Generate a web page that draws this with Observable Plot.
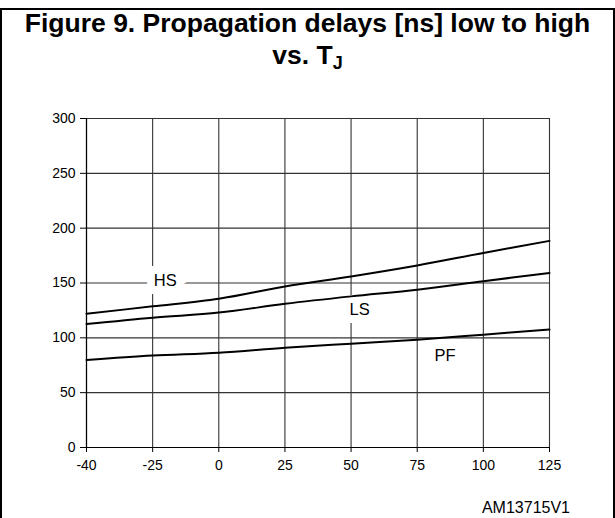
<!DOCTYPE html>
<html>
<head>
<meta charset="utf-8">
<script src="https://cdn.jsdelivr.net/npm/d3@7"></script>
<script src="https://cdn.jsdelivr.net/npm/@observablehq/plot@0.6"></script>
<style>
  html, body { margin: 0; padding: 0; background: #fff; }
  #wrap { position: relative; width: 615px; height: 518px; overflow: hidden; font-family: "Liberation Sans", Arial, sans-serif; }
  #frame { position: absolute; left: 0; top: 8px; width: 611px; height: 520px; border: 2px solid #000; border-bottom: none; }
  #title { position: absolute; left: 0; top: 7px; width: 615px; text-align: center; font-weight: bold; font-size: 26.5px; line-height: 32px; color: #000; }
  #title sub { font-size: 18px; vertical-align: -5px; line-height: 0; }
  #caption { position: absolute; right: 45px; top: 500px; font-size: 16px; line-height: 16px; color: #000; }
  #chart { position: absolute; left: 0; top: 0; }
</style>
</head>
<body>
<div id="wrap">
  <div id="frame"></div>
  <div id="title">Figure 9. Propagation delays [ns] low to high<br>vs. T<sub>J</sub></div>
  <div id="chart"></div>
  <div id="caption">AM13715V1</div>
</div>
<script>
const temps = [-40, -25, 0, 25, 50, 75, 100, 125];
const hs = [122, 128.7, 135.7, 146.9, 156, 166, 177.4, 188.4];
const ls = [112.6, 118.4, 123, 131, 137.8, 143.9, 151.6, 159.2];
const pf = [79.8, 83.8, 86.5, 91, 94.7, 98.3, 102.9, 107.7];
const yTicks = [0, 50, 100, 150, 200, 250, 300];
const seriesNames = ["HS", "LS", "PF"];
// label anchor positions (x in category index units, y in ns)
const labelX = [1.19, 4.13, 5.42];
const labelY = [152.5, 126, 84];

const series = [hs, ls, pf];
const rows = [];
series.forEach((vals, s) => vals.forEach((v, i) => rows.push({name: seriesNames[s], i, v})));
const labels = seriesNames.map((n, k) => ({name: n, x: labelX[k], y: labelY[k]}));
const idx = temps.map((t, i) => i);

const chart = Plot.plot({
  width: 615,
  height: 518,
  marginLeft: 86,
  marginRight: 66,
  marginTop: 118,
  marginBottom: 71,
  style: {fontFamily: "'Liberation Sans', Arial, sans-serif", background: "transparent", color: "#000"},
  x: {domain: [0, temps.length - 1], ticks: idx, tickFormat: i => String(temps[i])},
  y: {domain: [0, 300], ticks: yTicks},
  marks: [
    Plot.gridX(idx, {stroke: "#333", strokeOpacity: 1, strokeWidth: 1.1}),
    Plot.gridY(yTicks, {stroke: "#333", strokeOpacity: 1, strokeWidth: 1.1}),
    Plot.ruleY([0], {stroke: "#000", strokeWidth: 1.2}),
    Plot.ruleX([0], {stroke: "#000", strokeWidth: 1.2}),
    Plot.axisX(idx, {tickSize: 5, tickPadding: 8, fontSize: 14, label: null, tickFormat: i => String(temps[i])}),
    Plot.axisY(yTicks, {tickSize: 6, tickPadding: 5, fontSize: 14, label: null}),
    Plot.text(labels, {x: "x", y: "y", text: "name", fontSize: 16.5, fill: "#000", stroke: "#fff", strokeWidth: 16, strokeLinejoin: "miter", paintOrder: "stroke"}),
    Plot.line(rows, {x: "i", y: "v", z: "name", stroke: "#000", strokeWidth: 2, curve: "catmull-rom"})
  ]
});
document.getElementById("chart").appendChild(chart);
</script>
</body>
</html>
